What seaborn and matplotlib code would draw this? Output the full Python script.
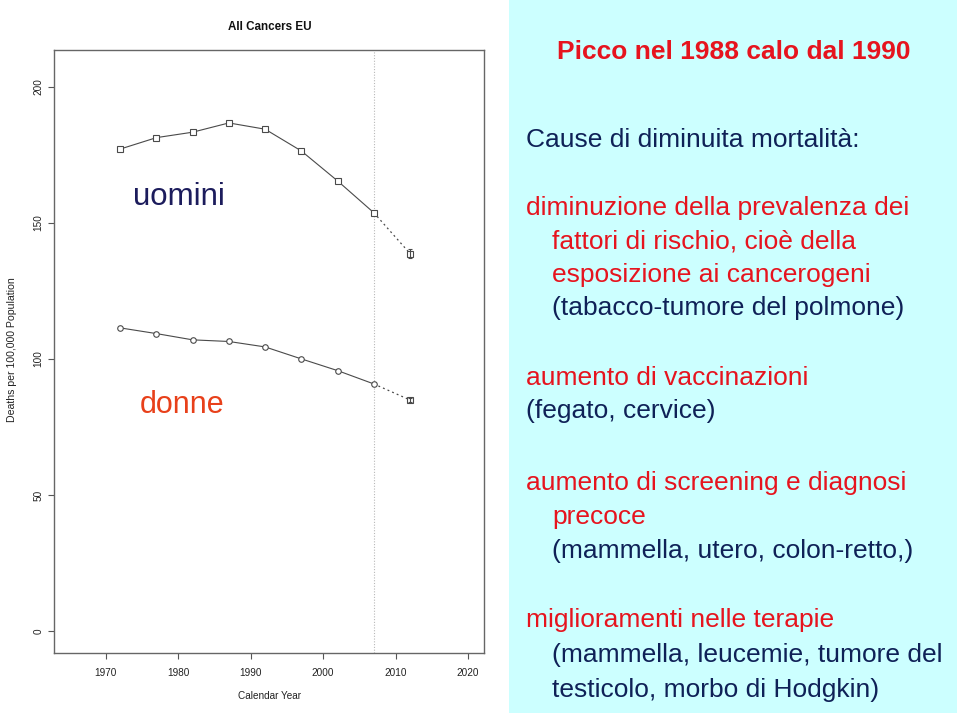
import matplotlib
matplotlib.use("Agg")
import matplotlib.pyplot as plt
from matplotlib.patches import Rectangle
import seaborn as sns
import pandas as pd

# ---- data ----
years = [1972, 1977, 1982, 1987, 1992, 1997, 2002, 2007]
men = [177.1, 181.3, 183.3, 186.7, 184.4, 176.4, 165.4, 153.7]
women = [111.4, 109.3, 107.0, 106.4, 104.4, 100.0, 95.7, 90.8]
pred_year = 2012
men_pred = 138.7
women_pred = 84.9
men_pred_err = 1.6
women_pred_err = 0.8
cut_year = 2007
x_ticks = [1970, 1980, 1990, 2000, 2010, 2020]
y_ticks = [0, 50, 100, 150, 200]

title = "All Cancers EU"
xlabel = "Calendar Year"
ylabel = "Deaths per 100,000 Population"

panel_lines = [
    # (text, x_px, baseline_px, color_key, bold)
    ("Picco nel 1988 calo dal 1990", 557, 59, "red", True),
    ("Cause di diminuita mortalità:", 526, 147, "navy", False),
    ("diminuzione della prevalenza dei", 526, 215, "red", False),
    ("fattori di rischio, cioè della", 552, 248, "red", False),
    ("esposizione ai cancerogeni", 552, 282, "red", False),
    ("(tabacco-tumore del polmone)", 552, 315, "navy", False),
    ("aumento di vaccinazioni", 526, 385, "red", False),
    ("(fegato, cervice)", 526, 418, "navy", False),
    ("aumento di screening e diagnosi", 526, 490, "red", False),
    ("precoce", 552, 524, "red", False),
    ("(mammella, utero, colon-retto,)", 552, 558, "navy", False),
    ("miglioramenti nelle terapie", 526, 627, "red", False),
    ("(mammella, leucemie, tumore del", 552, 662, "navy", False),
    ("testicolo, morbo di Hodgkin)", 552, 697, "navy", False),
]

sns.set_style("white")
plt.rcParams['font.family'] = ['Liberation Sans', 'DejaVu Sans']

W, H = 960, 717
fig = plt.figure(figsize=(W / 100, H / 100), dpi=100)
fig.patch.set_facecolor("white")

# right cyan panel
fig.patches.append(Rectangle((509 / W, 1 - 713 / H), (957 - 509) / W, 713 / H,
                             transform=fig.transFigure, facecolor="#ccffff",
                             edgecolor="none", zorder=0))

ax = fig.add_axes([54 / W, 1 - 653 / H, 430 / W, 603 / H])
ax.set_facecolor("white")

line_col = "#4a4a4a"
df_m = pd.DataFrame({"year": years, "rate": men})
df_w = pd.DataFrame({"year": years, "rate": women})
sns.lineplot(data=df_m, x="year", y="rate", ax=ax, color=line_col, lw=0.8,
             marker="s", markersize=4.0, markerfacecolor="white",
             markeredgecolor=line_col, markeredgewidth=0.8, zorder=3)
sns.lineplot(data=df_w, x="year", y="rate", ax=ax, color=line_col, lw=0.8,
             marker="o", markersize=4.0, markerfacecolor="white",
             markeredgecolor=line_col, markeredgewidth=0.8, zorder=3)

# prediction segments (dotted)
df_mp = pd.DataFrame({"year": [years[-1], pred_year], "rate": [men[-1], men_pred]})
df_wp = pd.DataFrame({"year": [years[-1], pred_year], "rate": [women[-1], women_pred]})
sns.lineplot(data=df_mp, x="year", y="rate", ax=ax, color=line_col, lw=0.9,
             linestyle=(0, (1.5, 2.5)), zorder=2)
sns.lineplot(data=df_wp, x="year", y="rate", ax=ax, color=line_col, lw=0.9,
             linestyle=(0, (1.5, 2.5)), zorder=2)
ax.errorbar([pred_year], [men_pred], yerr=[men_pred_err], fmt="s", ms=4.6,
            mfc="none", mec=line_col, mew=0.8, ecolor=line_col, elinewidth=0.8,
            capsize=1.5, capthick=0.8, zorder=4)
ax.errorbar([pred_year], [women_pred], yerr=[women_pred_err], fmt="s", ms=4.2,
            mfc="none", mec=line_col, mew=0.8, ecolor=line_col, elinewidth=0.8,
            capsize=1.5, capthick=0.8, zorder=4)

ax.axvline(cut_year, color="#b8b8b8", lw=0.8, linestyle=(0, (1, 1.5)), zorder=1)

ax.set_xlim(1962.87, 2022.2)
ax.set_ylim(-8.06, 213.5)
ax.set_xticks(x_ticks)
ax.set_xticklabels([str(t) for t in x_ticks])
ax.set_yticks(y_ticks)
ax.set_yticklabels([str(t) for t in y_ticks])
ax.tick_params(axis="both", direction="out", length=4, width=0.8, color="#555555",
               labelsize=7.2, labelcolor="#222222", bottom=True, left=True)
ax.tick_params(axis="x", pad=7)
ax.tick_params(axis="y", pad=3.5)
for lab in ax.get_yticklabels():
    lab.set_rotation(90)
    lab.set_va("center")
    lab.set_ha("right")
for s in ax.spines.values():
    s.set_visible(True)
    s.set_color("#666666")
    s.set_linewidth(1.0)
ax.set_xlabel("")
ax.set_ylabel("")

fig.text(269.5 / W, 1 - 30 / H, title, ha="center", va="baseline",
         fontsize=8.4, fontweight="bold", color="#111111")
fig.text(269.5 / W, 1 - 699 / H, xlabel, ha="center", va="baseline",
         fontsize=7.2, color="#222222")
fig.text(12 / W, 1 - 350 / H, ylabel, ha="center", va="center", rotation=90,
         fontsize=7.6, color="#222222")

ax.text(0.184, 0.743, "uomini", transform=ax.transAxes, fontsize=22.5,
        color="#1c1c5c", va="baseline", ha="left")
ax.text(0.2, 0.398, "donne", transform=ax.transAxes, fontsize=22,
        color="#e8401a", va="baseline", ha="left")

colors = {"red": "#e6141e", "navy": "#0f2157"}
for txt, xp, bp, ck, bold in panel_lines:
    fig.text(xp / W, 1 - bp / H, txt, ha="left", va="baseline",
             fontsize=19, color=colors[ck],
             fontweight="bold" if bold else "normal")

fig.savefig("out.png", dpi=100, facecolor="white")
